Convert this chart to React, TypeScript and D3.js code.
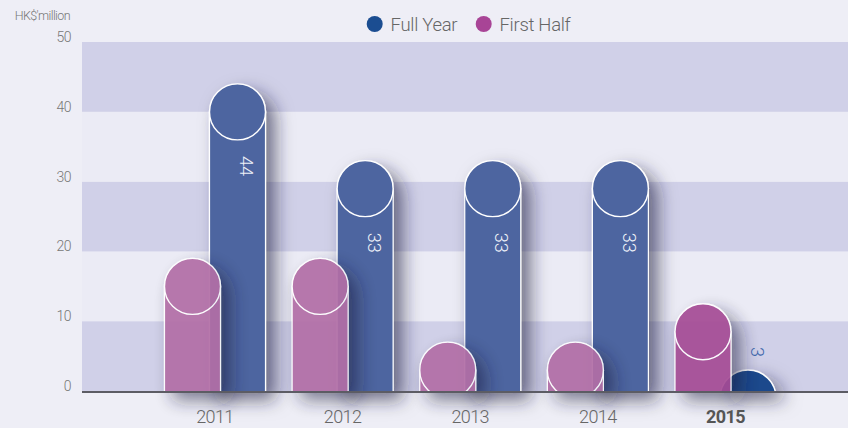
import React from "react";
import * as d3 from "d3";

const years = ["2011", "2012", "2013", "2014", "2015"];
const fullYear = [44, 33, 33, 33, 3];
const firstHalf = [19, 19, 7, 7, 12.5];
const yTicks = [0, 10, 20, 30, 40, 50];
const legendItems = ["Full Year", "First Half"];

const W = 848;
const H = 428;
const FONT = "Roboto, Lato, 'Open Sans', sans-serif";

export default function App() {
  const y = d3.scaleLinear().domain([0, 50]).range([391, 42]);
  const x = d3.scalePoint<string>().domain(years).range([215, 725.5]);
  const r = 28;
  const off = 22.5;
  const base = y(0);
  const plotLeft = 82;

  const bands = d3.range(yTicks.length - 1).map((i) => ({
    y0: y(yTicks[i + 1]),
    y1: y(yTicks[i]),
    dark: i % 2 === 0,
  }));

  const blueColor = (i: number) => (i === years.length - 1 ? "#1d4a8c" : "#4e65a0");
  const pinkColor = (i: number) => (i === years.length - 1 ? "#a54b95" : "#b26ea6");

  const bar = (cx: number, v: number, fill: string, key: string, opacity: number) => {
    const top = y(v);
    const cy = top + r;
    return (
      <g key={key} filter="url(#shadow)" opacity={opacity}>
        <g clipPath="url(#plotClip)">
          {cy < base && (
            <rect x={cx - r} y={cy} width={2 * r} height={base - cy + 4} fill={fill} stroke="#ffffff" strokeWidth={1.2} />
          )}
          <circle cx={cx} cy={cy} r={r} fill={fill} stroke="#ffffff" strokeWidth={1.4} />
        </g>
      </g>
    );
  };

  return (
    <svg
      width={W}
      height={H}
      style={{ position: "absolute", left: 0, top: 0, display: "block" }}
      fontFamily={FONT}
    >
      <defs>
        <filter id="shadow" filterUnits="userSpaceOnUse" x={0} y={0} width={W} height={H}>
          <feDropShadow dx={9} dy={9} stdDeviation={9} floodColor="#1e1e3c" floodOpacity={0.6} />
        </filter>
        <clipPath id="plotClip">
          <rect x={0} y={0} width={W} height={base} />
        </clipPath>
      </defs>
      <rect x={0} y={0} width={W} height={H} fill="#eeeef6" />
      {bands.map((b, i) => (
        <rect key={i} x={plotLeft} y={b.y0} width={W - plotLeft} height={b.y1 - b.y0} fill={b.dark ? "#d0d0e8" : "#ebebf5"} />
      ))}

      {/* y axis ticks */}
      {yTicks.map((t) => (
        <text key={t} x={71} y={y(t)} textAnchor="end" fontSize={14} fontWeight={300} fill="#777" letterSpacing={-0.5}>
          {t}
        </text>
      ))}
      <text x={70} y={20} textAnchor="end" fontSize={12.5} fontWeight={300} fill="#777" letterSpacing={-0.6}>
        HK$'million
      </text>

      {/* legend */}
      <circle cx={374.7} cy={24} r={8} fill="#1b4d91" />
      <text x={390.5} y={31} fontSize={18.5} fontWeight={300} fill="#666" letterSpacing={-0.3}>
        {legendItems[0]}
      </text>
      <circle cx={483.7} cy={24} r={8} fill="#a84496" />
      <text x={499.5} y={31} fontSize={18.5} fontWeight={300} fill="#666" letterSpacing={-0.3}>
        {legendItems[1]}
      </text>

      {/* bars: full year first, then first half on top */}
      {years.map((yr, i) => bar((x(yr) as number) + off, fullYear[i], blueColor(i), "b" + yr, 1))}
      {years.map((yr, i) => bar((x(yr) as number) - off, firstHalf[i], pinkColor(i), "p" + yr, 0.92))}

      {/* value labels */}
      {years.map((yr, i) => {
        const cx = (x(yr) as number) + off + 9;
        const top = y(fullYear[i]);
        const inside = fullYear[i] > 10;
        const ly = inside ? top + 82 : top - 18;
        return (
          <text
            key={"l" + yr}
            transform={`translate(${cx},${ly}) rotate(90)`}
            textAnchor="middle"
            dominantBaseline="central"
            fontSize={18}
            fontWeight={300}
            fill={inside ? "#eef0f8" : "#3f66aa"}
          >
            {fullYear[i]}
          </text>
        );
      })}

      {/* baseline */}
      <line x1={plotLeft} x2={W} y1={base + 1} y2={base + 1} stroke="#5c5c64" strokeWidth={2} />

      {/* x labels */}
      {years.map((yr, i) => {
        const last = i === years.length - 1;
        return (
          <text
            key={"x" + yr}
            x={x(yr) as number}
            y={423}
            textAnchor="middle"
            fontSize={18}
            fontWeight={last ? 700 : 300}
            fill={last ? "#555" : "#666"}
            letterSpacing={-0.6}
          >
            {yr}
          </text>
        );
      })}
    </svg>
  );
}
